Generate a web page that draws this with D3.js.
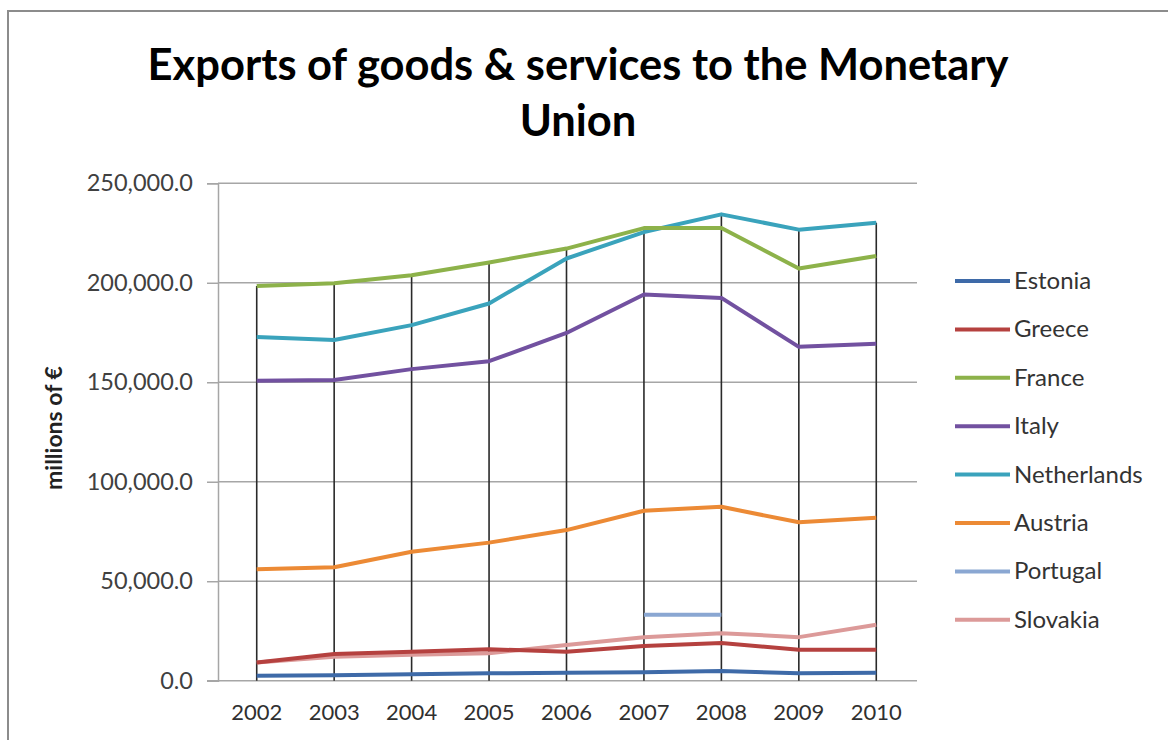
<!DOCTYPE html>
<html>
<head>
<meta charset="utf-8">
<script src="https://cdn.jsdelivr.net/npm/d3@7/dist/d3.min.js"></script>
<style>
  html, body { margin: 0; padding: 0; background: #fff; }
  svg { display: block; }
  text { font-family: Lato, "Open Sans", sans-serif; }
</style>
</head>
<body>
<svg id="chart" width="1168" height="740"></svg>
<script>
const years = ["2002","2003","2004","2005","2006","2007","2008","2009","2010"];
const yTicks = [0, 50000, 100000, 150000, 200000, 250000];

const estonia     = [2500, 2800, 3200, 3700, 4000, 4200, 4900, 3700, 4000];
const greece      = [9200, 13400, 14600, 15800, 14600, 17400, 18900, 15600, 15600];
const france      = [198400, 199800, 203800, 210200, 217200, 227500, 227500, 207200, 213500];
const italy       = [150700, 151100, 156600, 160600, 174800, 194100, 192400, 167800, 169300];
const netherlands = [172800, 171200, 178700, 189600, 212200, 225500, 234400, 226700, 230200];
const austria     = [56000, 57000, 64800, 69400, 75700, 85400, 87400, 79600, 81900];
const portugal    = [null, null, null, null, null, 33100, 33100, null, null];
const slovakia    = [9200, 12000, 13000, 13800, 17900, 21800, 23900, 21900, 28100];

const seriesNames  = ["Estonia","Greece","France","Italy","Netherlands","Austria","Portugal","Slovakia"];
const seriesValues = [estonia, greece, france, italy, netherlands, austria, portugal, slovakia];
const seriesColors = ["#3e6aa8","#b5413f","#8db24a","#7251a0","#3aa3bc","#ec8a35","#8aa7d2","#dc9a99"];

const svg = d3.select("#chart");

// frame
svg.append("line").attr("x1", 7).attr("x2", 1168).attr("y1", 11).attr("y2", 11)
  .attr("stroke", "#8c8c8c").attr("stroke-width", 2);
svg.append("line").attr("x1", 8).attr("x2", 8).attr("y1", 11).attr("y2", 740)
  .attr("stroke", "#8c8c8c").attr("stroke-width", 2);

// title
svg.append("text").attr("x", 578).attr("y", 80).attr("text-anchor", "middle")
  .attr("font-size", 43.5).attr("font-weight", "bold").attr("fill", "#000")
  .text("Exports of goods & services to the Monetary");
svg.append("text").attr("x", 578).attr("y", 136).attr("text-anchor", "middle")
  .attr("font-size", 43.5).attr("font-weight", "bold").attr("fill", "#000")
  .text("Union");

const x = d3.scaleBand().domain(years).range([218, 915]);
const cx = d => x(d) + x.bandwidth() / 2;
const y = d3.scaleLinear().domain([0, 250000]).range([680.7, 183.3]);

// gridlines
svg.append("g").selectAll("line").data(yTicks.filter(t => t > 0)).join("line")
  .attr("x1", 218).attr("x2", 917)
  .attr("y1", d => y(d)).attr("y2", d => y(d))
  .attr("stroke", "#a6a6a6").attr("stroke-width", 1.5);

// y axis
const yAxis = d3.axisLeft(y).tickValues(yTicks).tickFormat(d3.format(",.1f")).tickSize(11).tickPadding(14);
const gy = svg.append("g").attr("transform", "translate(218,0)").call(yAxis);
gy.select(".domain").attr("stroke", "#a6a6a6").attr("stroke-width", 1.5);
gy.selectAll(".tick line").attr("stroke", "#a6a6a6").attr("stroke-width", 1.5);
gy.selectAll(".tick text").attr("font-size", 23.5).attr("fill", "#404040")
  .attr("font-family", "Lato, 'Open Sans', sans-serif");

// x axis baseline
const xAxis = d3.axisBottom(x).tickSize(0).tickPadding(24);
const gx = svg.append("g").attr("transform", `translate(0,${y(0)})`).call(xAxis);
gx.select(".domain").attr("stroke", "#a6a6a6").attr("stroke-width", 1.5)
  .attr("d", `M207,0H917`);
gx.selectAll(".tick text").attr("font-size", 22).attr("fill", "#303030")
  .attr("font-family", "Lato, 'Open Sans', sans-serif");

// y axis title
svg.append("text").attr("transform", "translate(62,428) rotate(-90)")
  .attr("text-anchor", "middle").attr("font-size", 23).attr("font-weight", "bold").attr("fill", "#222")
  .text("millions of €");

// drop lines
const tops = years.map((yr, i) => d3.max(seriesValues, s => s[i]));
svg.append("g").selectAll("line").data(years).join("line")
  .attr("x1", d => cx(d)).attr("x2", d => cx(d))
  .attr("y1", (d, i) => y(tops[i])).attr("y2", y(0))
  .attr("stroke", "#2a2a2a").attr("stroke-width", 1.6);

// series lines
const line = d3.line()
  .defined(d => d.v !== null)
  .x(d => cx(d.yr)).y(d => y(d.v));
const order = [7, 6, 5, 4, 3, 2, 1, 0];
const gl = svg.append("g");
order.forEach(k => {
  const pts = years.map((yr, i) => ({ yr, v: seriesValues[k][i] }));
  gl.append("path").attr("d", line(pts))
    .attr("fill", "none").attr("stroke", seriesColors[k])
    .attr("stroke-width", 4).attr("stroke-linejoin", "round").attr("stroke-linecap", "butt");
});

// legend
const lg = svg.append("g");
seriesNames.forEach((n, i) => {
  const ly = 281 + i * 48.4;
  lg.append("line").attr("x1", 955).attr("x2", 1010).attr("y1", ly).attr("y2", ly)
    .attr("stroke", seriesColors[i]).attr("stroke-width", 4);
  lg.append("text").attr("x", 1014).attr("y", ly + 8).attr("font-size", 24).attr("fill", "#333")
    .text(n);
});
</script>
</body>
</html>
